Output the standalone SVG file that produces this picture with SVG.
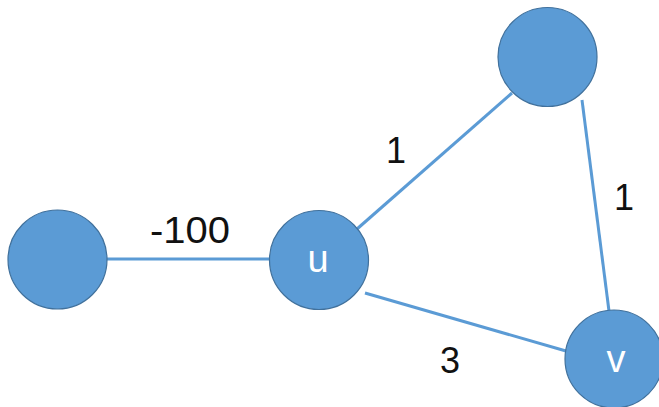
<svg xmlns="http://www.w3.org/2000/svg" width="659" height="407" viewBox="0 0 659 407">
<style>
.edge{stroke:#5b9bd5;stroke-width:3;fill:none}
.node{fill:#5b9bd5;stroke:#41719c;stroke-width:1.2}
.lbl{font-family:"Liberation Sans",Arial,sans-serif;font-size:36px;fill:#111;text-anchor:middle}
.nlbl{font-family:"Liberation Sans",Arial,sans-serif;font-size:38px;fill:#fff;text-anchor:middle}
</style>
<rect width="659" height="407" fill="#fff"/>
<g id="connectors">
<line class="edge" x1="107" y1="259" x2="269" y2="259"/>
<line class="edge" x1="357" y1="229" x2="512" y2="93"/>
<line class="edge" x1="365" y1="293" x2="566" y2="351"/>
<line class="edge" x1="582" y1="100" x2="609" y2="311"/>
</g>
<g id="edge-labels">
<text class="lbl" x="190" y="243" textLength="80" lengthAdjust="spacingAndGlyphs">-100</text>
<text class="lbl" x="396" y="163">1</text>
<text class="lbl" x="624" y="210">1</text>
<text class="lbl" x="450" y="373">3</text>
</g>
<g id="node-left"><circle class="node" cx="57.5" cy="259.5" r="49.5"/></g>
<g id="node-u"><circle class="node" cx="319" cy="260" r="49.5"/><text class="nlbl" x="318" y="272">u</text></g>
<g id="node-top"><circle class="node" cx="547.5" cy="57" r="49.5"/></g>
<g id="node-v"><circle class="node" cx="614" cy="359" r="49"/><text class="nlbl" x="616" y="372">v</text></g>
</svg>
